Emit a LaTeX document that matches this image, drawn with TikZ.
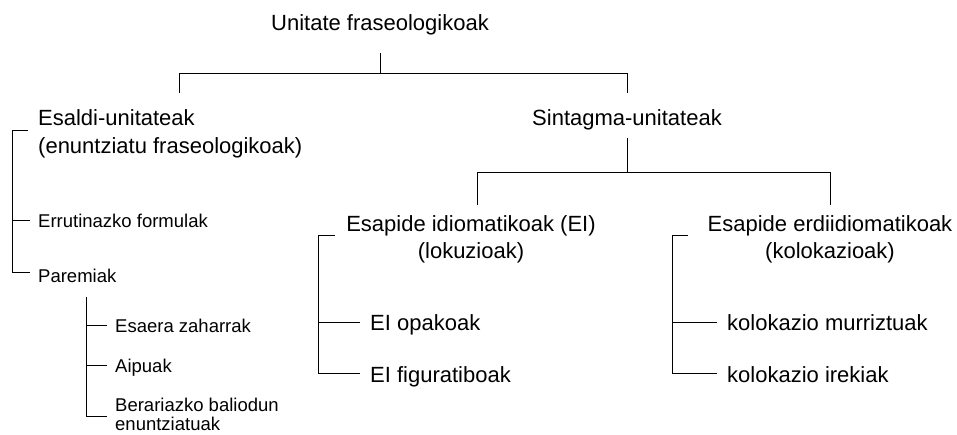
\documentclass[tikz,border=0pt]{standalone}
\usepackage{fontspec}
\setmainfont{Liberation Sans}
\begin{document}
\begin{tikzpicture}[x=1pt,y=-1pt,
  big/.style={inner sep=0pt,font=\fontsize{22}{27}\selectfont},
  small/.style={inner sep=0pt,font=\fontsize{18.5}{21}\selectfont},
  link/.style={draw=black,line width=0.85pt}]
\useasboundingbox (0,0) rectangle (957,434);
% texts
\node[big,anchor=base] (top) at (380,30) {Unitate fraseologikoak};
\node[big,anchor=base west] (esaldi) at (38,125) {Esaldi-unitateak};
\node[big,anchor=base west] (esaldiB) at (38,153) {(enuntziatu fraseologikoak)};
\node[big,anchor=base] (sint) at (627,125) {Sintagma-unitateak};
\node[big,anchor=base] (ei) at (471,231) {Esapide idiomatikoak (EI)};
\node[big,anchor=base] (eiB) at (471,258) {(lokuzioak)};
\node[big,anchor=base] (erdi) at (830,231) {Esapide erdiidiomatikoak};
\node[big,anchor=base] (erdiB) at (830,258) {(kolokazioak)};
\node[big,anchor=base west] (opak) at (370,330) {EI opakoak};
\node[big,anchor=base west] (fig) at (370,382) {EI figuratiboak};
\node[big,anchor=base west] (murr) at (727,330) {kolokazio murriztuak};
\node[big,anchor=base west] (irek) at (727,382) {kolokazio irekiak};
\node[small,anchor=base west] (errut) at (38,227) {Errutinazko formulak};
\node[small,anchor=base west] (parem) at (38,282) {Paremiak};
\node[small,anchor=base west] (esaera) at (115,332) {Esaera zaharrak};
\node[small,anchor=base west] (aipu) at (115,372) {Aipuak};
\node[small,anchor=base west] (berar) at (115,411) {Berariazko baliodun};
\node[small,anchor=base west] (berarB) at (115,430) {enuntziatuak};
% coordinates
\coordinate (t0) at (380,53);
\coordinate (t1) at (380,73);
\coordinate (tl) at (179,73);
\coordinate (tr) at (627,73);
\coordinate (tlb) at (179,93);
\coordinate (trb) at (627,93);
\coordinate (s0) at (627,138);
\coordinate (s1) at (627,172);
\coordinate (sl) at (477,172);
\coordinate (sr) at (830,172);
\coordinate (slb) at (477,205);
\coordinate (srb) at (830,205);
\coordinate (a0) at (28,130);
\coordinate (a1) at (12,130);
\coordinate (a2) at (12,272);
\coordinate (a3) at (30,272);
\coordinate (am) at (12,220);
\coordinate (amr) at (30,220);
\coordinate (p0) at (86,297);
\coordinate (p1) at (86,416);
\coordinate (p2) at (107,416);
\coordinate (pa) at (86,325);
\coordinate (par) at (107,325);
\coordinate (pb) at (86,365);
\coordinate (pbr) at (107,365);
\coordinate (e0) at (335,235);
\coordinate (e1) at (318,235);
\coordinate (e2) at (318,373);
\coordinate (e3) at (360,373);
\coordinate (em) at (318,322);
\coordinate (emr) at (360,322);
\coordinate (k0) at (688,235);
\coordinate (k1) at (672,235);
\coordinate (k2) at (672,373);
\coordinate (k3) at (717,373);
\coordinate (km) at (672,322);
\coordinate (kmr) at (717,322);
% connectors
\draw[link] (t0) -- (t1);
\draw[link] (tlb) -- (tl) -- (tr) -- (trb);
\draw[link] (s0) -- (s1);
\draw[link] (slb) -- (sl) -- (sr) -- (srb);
\draw[link] (a0) -- (a1) -- (a2) -- (a3);
\draw[link] (am) -- (amr);
\draw[link] (p0) -- (p1) -- (p2);
\draw[link] (pa) -- (par);
\draw[link] (pb) -- (pbr);
\draw[link] (e0) -- (e1) -- (e2) -- (e3);
\draw[link] (em) -- (emr);
\draw[link] (k0) -- (k1) -- (k2) -- (k3);
\draw[link] (km) -- (kmr);
\end{tikzpicture}
\end{document}
